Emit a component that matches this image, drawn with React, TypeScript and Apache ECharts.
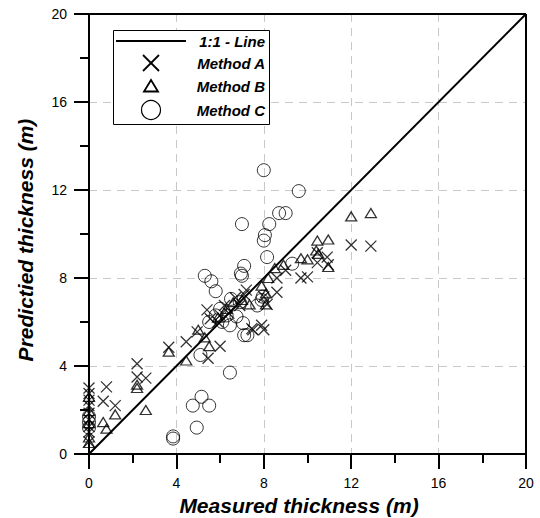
import React, { useEffect, useRef } from "react";
import * as echarts from "echarts";

const axisTicks = [0, 4, 8, 12, 16, 20];
const xTitle = "Measured thickness (m)";
const yTitle = "Predictied thickness (m)";
const legendNames = ["1:1 - Line", "Method A", "Method B", "Method C"];

const oneToOne: number[][] = [
  [0, 0],
  [20, 20],
];

const methodA: number[][] = [
  [0, 3.0], [0, 2.75], [0, 2.45], [0, 2.2], [0, 1.85], [0, 1.55], [0, 1.25], [0, 1.0], [0, 0.55],
  [0.8, 3.05], [0.65, 2.4], [1.2, 2.2],
  [2.2, 4.1], [2.2, 3.5], [2.6, 3.45],
  [3.65, 4.85], [4.45, 5.1], [4.95, 5.55], [5.45, 4.35], [6.0, 4.9],
  [5.4, 6.55], [5.55, 6.15], [5.9, 6.0], [6.2, 6.75], [6.7, 7.1], [7.2, 7.45], [6.0, 6.3], [6.4, 6.4], [6.9, 6.75], [7.1, 7.25],
  [7.45, 5.7], [7.9, 5.85], [7.5, 5.65], [8.0, 5.65],
  [8.15, 6.8], [8.0, 7.15], [8.6, 7.35], [8.6, 8.0], [9.0, 8.35], [9.7, 8.0], [10.0, 8.05],
  [10.45, 8.7], [10.45, 9.15], [10.9, 8.95], [10.95, 8.6], [12.0, 9.5], [12.9, 9.45],
];

const methodB: number[][] = [
  [0, 2.6], [0, 1.95], [0, 1.4], [0, 0.75], [0, 0.5],
  [0.65, 1.45], [0.8, 1.15], [1.2, 1.8],
  [2.2, 3.15], [2.2, 3.0], [2.6, 2.0],
  [3.65, 4.65], [4.45, 4.25], [5.0, 5.65], [5.5, 4.9], [5.3, 5.3],
  [5.9, 6.2], [6.3, 6.6], [6.6, 6.9], [7.0, 7.0], [7.35, 6.8],
  [7.9, 7.65], [8.2, 8.0], [8.1, 6.8], [8.1, 7.3], [8.5, 8.45], [8.9, 8.6],
  [9.7, 8.9], [10.0, 8.85], [10.4, 9.25], [10.5, 9.1], [10.95, 8.5],
  [10.45, 9.7], [10.95, 9.75], [12.0, 10.8], [12.9, 10.95],
];

const methodC: number[][] = [
  [0, 1.7], [0, 1.45], [0, 1.2],
  [3.85, 0.8], [3.85, 0.7], [4.93, 1.2], [4.75, 2.2], [5.15, 2.6], [5.5, 2.2],
  [5.1, 4.5], [6.45, 3.7],
  [5.3, 8.1], [5.6, 7.85], [5.8, 7.4], [6.5, 7.05], [6.9, 6.9], [5.5, 6.0],
  [6.3, 6.3], [6.75, 6.25], [7.05, 5.95], [7.1, 5.4], [7.25, 5.4], [6.45, 5.85],
  [7.7, 6.75], [7.9, 7.0], [7.95, 7.15],
  [7.1, 8.55], [6.95, 8.2], [7.0, 8.1],
  [8.0, 12.9], [9.6, 11.95], [8.7, 10.95], [9.0, 10.95], [7.0, 10.45], [8.25, 10.45], [8.05, 9.95], [8.0, 9.7], [8.15, 8.95], [9.3, 8.65],
  [6.0, 6.6], [5.8, 6.3], [6.1, 6.0],
];

const FONT = '"Liberation Sans", Arial, sans-serif';

export default function App() {
  const ref = useRef<HTMLDivElement>(null);
  useEffect(() => {
    document.body.style.margin = "0";
    if (!ref.current) return;
    const chart = echarts.init(ref.current, undefined, { renderer: "svg" });
    const GL = 89, GT = 14, GW = 437, GH = 440;
    const axisCommon = {
      type: "value" as const,
      min: axisTicks[0],
      max: axisTicks[axisTicks.length - 1],
      interval: 4,
      axisLine: { show: true, onZero: false, lineStyle: { color: "#000", width: 2 } },
      axisTick: { show: true, inside: false, length: 15, lineStyle: { color: "#000", width: 2 } },
      minorTick: { show: true, splitNumber: 2, length: 9, lineStyle: { color: "#000", width: 2 } },
      axisLabel: { color: "#000", fontSize: 14, fontFamily: FONT, margin: 22 },
      splitLine: {
        show: true,
        showMinLine: false,
        showMaxLine: false,
        lineStyle: { color: "#c8c8c8", width: 1, type: [8, 6] },
      },
    };
    const txt = (text: string, x: number, y: number) => ({
      type: "text",
      x,
      y,
      z: 102,
      style: {
        text,
        font: `bold italic 15px ${FONT}`,
        fill: "#000",
        align: "right",
        verticalAlign: "middle",
      },
    });
    chart.setOption({
      animation: false,
      backgroundColor: "#fff",
      grid: { left: GL, top: GT, width: GW, height: GH, containLabel: false },
      xAxis: { ...axisCommon },
      yAxis: { ...axisCommon },
      series: [
        {
          name: legendNames[0],
          type: "line",
          data: oneToOne,
          showSymbol: false,
          symbol: "none",
          lineStyle: { color: "#000", width: 2 },
          z: 5,
        },
        {
          name: legendNames[1],
          type: "scatter",
          data: methodA,
          symbol: "path://M0,0L10,10M10,0L0,10",
          symbolSize: 11,
          itemStyle: { color: "rgba(0,0,0,0)", borderColor: "#000", borderWidth: 1.3 },
          z: 6,
        },
        {
          name: legendNames[2],
          type: "scatter",
          data: methodB,
          symbol: "triangle",
          symbolSize: [11, 9],
          itemStyle: { color: "rgba(0,0,0,0)", borderColor: "#000", borderWidth: 1.3 },
          z: 6,
        },
        {
          name: legendNames[3],
          type: "scatter",
          data: methodC,
          symbol: "circle",
          symbolSize: 13,
          itemStyle: { color: "rgba(0,0,0,0)", borderColor: "#000", borderWidth: 1 },
          z: 6,
        },
      ],
      graphic: [
        {
          type: "line",
          z: 100,
          shape: { x1: GL, y1: GT, x2: GL + GW, y2: GT },
          style: { stroke: "#000", lineWidth: 2 },
        },
        {
          type: "line",
          z: 100,
          shape: { x1: GL + GW, y1: GT, x2: GL + GW, y2: GT + GH },
          style: { stroke: "#000", lineWidth: 2 },
        },
        {
          type: "text",
          x: 299,
          y: 505,
          z: 100,
          style: {
            text: xTitle,
            font: `bold italic 21px ${FONT}`,
            fill: "#000",
            align: "center",
            verticalAlign: "middle",
          },
        },
        {
          type: "text",
          x: 25,
          y: 240,
          rotation: Math.PI / 2,
          z: 100,
          style: {
            text: yTitle,
            font: `bold italic 21px ${FONT}`,
            fill: "#000",
            align: "center",
            verticalAlign: "middle",
          },
        },
        {
          type: "rect",
          z: 100,
          shape: { x: 113.5, y: 30.5, width: 156, height: 94 },
          style: { fill: "#fff", stroke: "#000", lineWidth: 1 },
        },
        {
          type: "line",
          z: 101,
          shape: { x1: 116, y1: 41, x2: 186, y2: 41 },
          style: { stroke: "#000", lineWidth: 2 },
        },
        {
          type: "line",
          z: 101,
          shape: { x1: 143, y1: 55, x2: 159, y2: 71 },
          style: { stroke: "#000", lineWidth: 1.8 },
        },
        {
          type: "line",
          z: 101,
          shape: { x1: 159, y1: 55, x2: 143, y2: 71 },
          style: { stroke: "#000", lineWidth: 1.8 },
        },
        {
          type: "polygon",
          z: 101,
          shape: { points: [[151, 80], [158, 91.5], [144, 91.5]] },
          style: { fill: "none", stroke: "#000", lineWidth: 1.8 },
        },
        {
          type: "circle",
          z: 101,
          shape: { cx: 151, cy: 110, r: 9.5 },
          style: { fill: "none", stroke: "#000", lineWidth: 1.2 },
        },
        txt(legendNames[0], 265, 41),
        txt(legendNames[1], 265, 63),
        txt(legendNames[2], 265, 86),
        txt(legendNames[3], 265, 110),
      ],
    });
    return () => chart.dispose();
  }, []);
  return <div ref={ref} style={{ width: 540, height: 518 }} />;
}
